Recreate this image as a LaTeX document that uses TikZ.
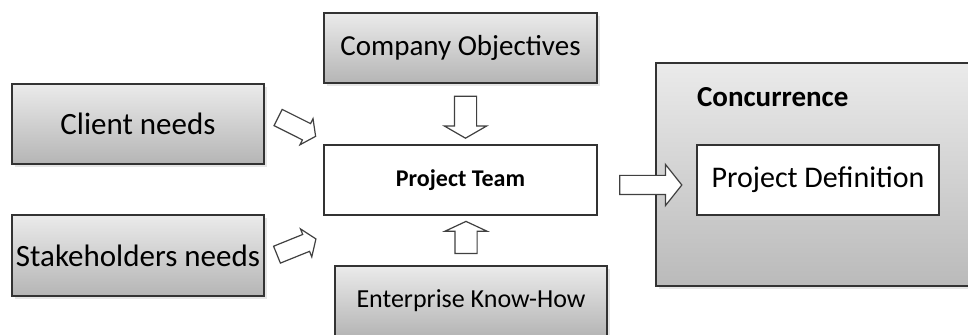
\documentclass[tikz,border=0pt]{standalone}
\usepackage{fontspec}
\setmainfont{Carlito}
\usetikzlibrary{shapes.arrows,shadows}
\begin{document}
\begin{tikzpicture}[x=0.5pt,y=-0.5pt,
	box/.style={rectangle,draw=black!80,line width=0.85pt,inner sep=0pt,align=center},
	graybox/.style={box,top color=black!8,bottom color=black!29,drop shadow={shadow xshift=1.5pt,shadow yshift=-1.5pt,opacity=.2}},
	whitebox/.style={box,fill=white},
	blockarrow/.style={single arrow,draw=black!75,line width=0.6pt,fill=white,inner sep=0pt}]
\path[use as bounding box,clip] (0,0) rectangle (968,335);
\node[graybox,minimum width=136.5pt,minimum height=35pt,font=\fontsize{14.5}{17}\selectfont] (objectives) at (460.5,48) {Company Objectives};
\node[graybox,minimum width=126pt,minimum height=40pt,font=\fontsize{15.5}{18}\selectfont] (client) at (138,124) {Client needs};
\node[graybox,minimum width=126pt,minimum height=40.5pt,font=\fontsize{15.5}{18}\selectfont] (stakeholders) at (138,255.5) {Stakeholders needs};
\node[whitebox,minimum width=136.5pt,minimum height=35pt,font=\bfseries\fontsize{12}{14}\selectfont] (team) at (460.5,180) {Project Team};
\node[graybox,minimum width=136pt,minimum height=35pt,font=\fontsize{13}{15}\selectfont] (knowhow) at (471,301) {Enterprise Know-How};
\node[graybox,top color=black!8,bottom color=black!27,minimum width=162pt,minimum height=111.5pt] (concurrence) at (818,174.5) {};
\node[anchor=base west,font=\bfseries\fontsize{14.5}{17}\selectfont] (conclabel) at (690,107) {Concurrence};
\node[whitebox,minimum width=121pt,minimum height=35pt,font=\fontsize{15}{18}\selectfont] (definition) at (818,180) {Project Definition};
\node[blockarrow,rotate=-90,minimum height=21pt,inner ysep=5.25pt,single arrow head extend=5pt,single arrow tip angle=120] (arrobjectives) at (465.5,114) {};
\node[blockarrow,rotate=90,minimum height=16pt,inner ysep=5.25pt,single arrow head extend=5pt,single arrow tip angle=130] (arrknowhow) at (466,240) {};
\node[blockarrow,rotate=-26.6,minimum height=21pt,inner ysep=4.25pt,single arrow head extend=2.75pt,single arrow tip angle=110] (arrclient) at (294,125.5) {};
\node[blockarrow,rotate=22,minimum height=21pt,inner ysep=4.25pt,single arrow head extend=3pt,single arrow tip angle=110] (arrstakeholders) at (293.5,248) {};
\node[blockarrow,minimum height=31pt,inner ysep=4.5pt,single arrow head extend=5.5pt,single arrow tip angle=103] (arrteam) at (647,185) {};
\end{tikzpicture}
\end{document}
